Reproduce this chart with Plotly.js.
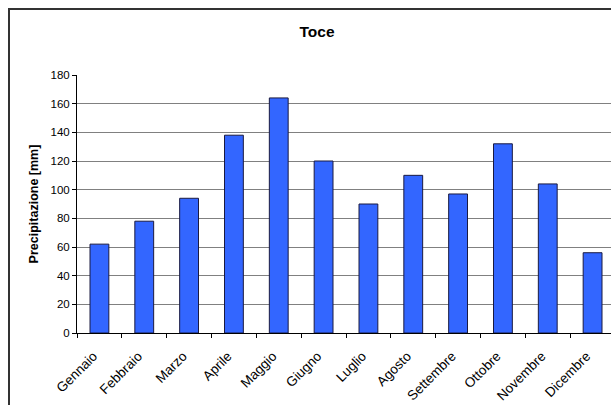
<!DOCTYPE html>
<html>
<head>
<meta charset="utf-8">
<script src="https://cdn.plot.ly/plotly-3.0.1.min.js"></script>
<style>
html,body{margin:0;padding:0;overflow:hidden;background:#fff;}
::-webkit-scrollbar{display:none;}
#clip{position:absolute;left:0;top:0;width:611px;height:405px;overflow:hidden;}
#frame{position:absolute;left:8px;top:8px;width:700px;height:500px;border-left:2px solid #333;border-top:2px solid #333;box-sizing:border-box;}
#chart{position:absolute;left:0;top:0;width:640px;height:420px;}
</style>
</head>
<body>
<div id="clip">
<div id="frame"></div>
<div id="chart"></div>
</div>
<script>
const months = ["Gennaio","Febbraio","Marzo","Aprile","Maggio","Giugno","Luglio","Agosto","Settembre","Ottobre","Novembre","Dicembre"];
const precip = [62, 78, 94, 138, 164, 120, 90, 110, 97, 132, 104, 56];
const chartTitle = "Toce";
const yTitle = "Precipitazione [mm]";

const trace = {
  type: "bar",
  x: months,
  y: precip,
  marker: {color: "#3366FF", line: {color: "#1a1a40", width: 1}},
  hoverinfo: "x+y"
};

const layout = {
  width: 640, height: 420,
  margin: {l: 77, r: 25, t: 75, b: 87},
  paper_bgcolor: "rgba(0,0,0,0)",
  plot_bgcolor: "#fff",
  bargap: 0.58,
  showlegend: false,
  font: {family: "Liberation Sans, Arial, sans-serif", color: "#000", size: 11},
  title: {text: "<b>" + chartTitle + "</b>", x: 317/640, xref: "container", xanchor: "center",
          y: 1 - 32/420, yref: "container", yanchor: "middle",
          font: {size: 15.5, family: "Liberation Sans, Arial, sans-serif", color: "#000"}},
  xaxis: {
    type: "category",
    tickson: "boundaries",
    ticks: "outside", ticklen: 4, tickcolor: "#000", tickwidth: 1,
    tickangle: -45,
    ticklabelstandoff: 9,
    ticklabelshift: -6,
    showline: true, linecolor: "#000", linewidth: 1,
    showgrid: false,
    tickfont: {size: 13.5},
    automargin: false
  },
  yaxis: {
    range: [0, 180], dtick: 20,
    ticks: "outside", ticklen: 4, tickcolor: "#000", tickwidth: 1,
    showline: true, linecolor: "#000", linewidth: 1,
    showgrid: true, gridcolor: "#808080", gridwidth: 1,
    zeroline: false,
    tickfont: {size: 11.5},
    automargin: false,
    title: {text: "<b>" + yTitle + "</b>", font: {size: 12.5}, standoff: 9}
  }
};

Plotly.newPlot("chart", [trace], layout, {displayModeBar: false, staticPlot: true});
</script>
</body>
</html>
